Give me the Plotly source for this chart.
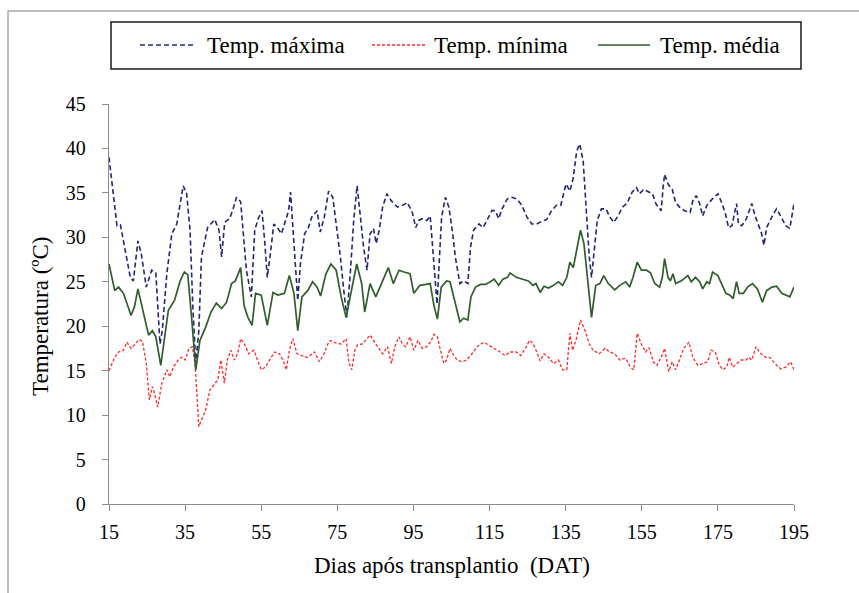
import plotly.graph_objects as go

# ---------------- data ----------------
days_max = [15, 17.1, 18, 20.6, 21.4, 22.6, 23.5, 24.8, 26.2, 27.3, 28.4, 29, 30.2, 31.5, 32.8, 34.5, 35.4, 36.3, 37, 37.8,
            38.6, 39.3, 40.9, 42.8, 43.9, 44.6, 45.4, 46.7, 47.6, 48.5, 49.6, 50.2, 51.1, 52.4, 53.3, 54.2, 55.2, 55.9, 56.6, 57.5,
            58.3, 59.4, 60.3, 61.1, 62.2, 62.7, 63.3, 64.2, 64.6, 65.3, 66.4, 67.4, 68.3, 69.7, 70.5, 71.6, 72.7, 73.8, 74.9, 75.8,
            76.7, 77.5, 78.4, 79.3, 80.2, 81, 81.9, 82.8, 83.6, 84.5, 85.2, 86, 86.9, 88, 89.2, 90.8, 92.1, 93.4, 94.7, 95.6,
            96.4, 97.3, 98.5, 99.4, 100.3, 101.2, 102.4, 103.4, 104.3, 105.2, 106, 107.2, 108.2, 109.3, 110, 110.8, 112.2, 113.3, 114.3, 115.6,
            116.5, 117.4, 118.3, 119.6, 120.9, 122.2, 123.5, 124.8, 126.1, 127.4, 128.7, 130, 131.3, 132.6, 133.7, 135.1, 136.1, 137, 137.9, 138.7,
            139.6, 140.5, 141.2, 141.8, 142.4, 143.3, 144.4, 145.6, 146.6, 147.6, 148.8, 149.9, 151.1, 152.5, 153.6, 154.4, 155.5, 156.6, 157.8, 158.8,
            160.1, 160.6, 161, 161.9, 163, 163.9, 164.9, 166.2, 167.7, 168.4, 169.3, 170.2, 171, 172.1, 173.5, 175, 176.1, 177, 177.8, 178.7,
            179.9, 180.4, 181.3, 182.5, 183.9, 184.8, 185.7, 186.5, 187.1, 187.8, 189.2, 190.4, 191.5, 192.8, 193.9, 195]
temp_max = [39, 31.3, 31.4, 25.5, 25.1, 29.6, 28.1, 24.4, 26.3, 26, 18, 19.5, 25.9, 30.4, 31.5, 35.8, 34.9, 30.8, 22.5, 15.8,
            19.5, 27.8, 31.1, 32, 30.8, 27.8, 31.7, 32.1, 33.2, 34.5, 34, 30.8, 26.3, 23.3, 30.8, 32.1, 33, 29.6, 25.5, 28.5,
            31.5, 31, 30.4, 31.5, 33, 35.1, 31.1, 25.1, 22.9, 27, 30.4, 31.1, 32.3, 33, 30.6, 32.3, 35.2, 34.5, 31.1, 27.8,
            24, 21, 25.9, 31.9, 35.8, 32.6, 28.9, 26.3, 30.4, 31, 29.3, 30.8, 33.4, 34.9, 34.1, 33.4, 33.6, 33.9, 32.8, 31.1,
            31.9, 32.1, 31.9, 32.4, 27.8, 22.5, 32.3, 34.5, 33.4, 30.8, 27.8, 24.8, 25.1, 24.8, 28.9, 30.8, 31.5, 31.1, 31.9, 33,
            33, 32.1, 33.2, 34.3, 34.5, 34.3, 33.6, 32.3, 31.5, 31.5, 31.8, 32, 33, 33.6, 33.6, 36, 35.2, 36.7, 39.7, 40.5,
            38.6, 32.6, 27.8, 25.5, 27.8, 31.9, 33.2, 33.2, 32.3, 31.7, 32.4, 33.4, 33.8, 35.1, 35.6, 34.9, 35.4, 35.2, 34.9, 33.7,
            33, 35.6, 37.1, 36, 35.4, 33.9, 33.4, 33, 32.8, 34.1, 34.7, 33.8, 32.4, 33.6, 34.3, 34.9, 33.8, 32.6, 31.1, 31.3,
            33.8, 31.5, 31.3, 32.1, 33.8, 32.4, 31.3, 30.4, 29.1, 31.1, 32.3, 33.2, 32.4, 31.3, 31, 33.8]

days_min = [15, 16.5, 17.5, 18.8, 19.7, 20.8, 21.9, 22.8, 23.8, 24.8, 25.6, 26.4, 27, 27.8, 28.9, 30.2, 31, 31.9, 33.2, 34.1,
            35, 36, 36.9, 37.6, 38.6, 39.3, 40.4, 41.5, 42.8, 43.6, 44.4, 45.3, 46.1, 47, 47.9, 48.8, 49.6, 50.7, 51.7, 53.1,
            54, 55, 56.1, 57.2, 58.5, 59.8, 60.7, 61.6, 62.4, 63.3, 64.4, 65.5, 67.2, 69, 70.3, 71.5, 72.5, 73.2, 74.7, 76,
            77.3, 78.1, 78.8, 79.6, 80.3, 81.6, 83.6, 85.1, 86.9, 88.2, 89.2, 90.1, 91.2, 92.1, 93, 94.1, 95.1, 96.2, 97.3, 98.5,
            99.6, 100.4, 101.3, 102.1, 103, 103.7, 104.6, 105.6, 106.5, 107.8, 108.9, 110.4, 111.7, 113.5, 114.8, 116.2, 117.8, 119.1, 120.4, 122,
            123.2, 124.4, 125.5, 126.5, 127.2, 128.3, 129.3, 130.5, 131.8, 133.1, 134.2, 135.3, 136.1, 136.8, 137.7, 138.9, 140.1, 141.2, 142.2, 143.8,
            145.3, 146.6, 147.9, 149.2, 150.8, 152, 152.9, 153.8, 154.9, 156, 156.9, 158, 159, 160.1, 161, 161.6, 162.1, 163, 163.9, 164.9,
            166, 167.4, 168.4, 169.7, 171, 172.3, 173.2, 174.3, 175.4, 176.3, 177.3, 178, 178.9, 179.9, 181.1, 182.4, 183.1, 183.9, 185, 186.3,
            187.6, 188.6, 190, 191.5, 192.8, 194.1, 195]
temp_min = [15, 16.5, 17.1, 17.3, 18.2, 17.5, 18, 18.5, 18.3, 15.8, 11.7, 13.2, 12.4, 10.9, 13.6, 15.1, 14.3, 15.4, 16.2, 16.5,
            16.2, 17.5, 17.7, 15.8, 8.7, 9.4, 10.6, 12.8, 13.6, 14, 16.2, 13.6, 16.2, 17.3, 16.2, 16.9, 18.6, 17.9, 16.9, 17.3,
            16.2, 15.1, 15.4, 16.2, 17.1, 16.9, 16.2, 15.1, 17.3, 18.6, 16.9, 16.7, 16.5, 17.1, 16, 16.9, 18, 18.4, 18.1, 18,
            18.6, 15.8, 15.1, 17.3, 17.9, 18, 19, 18, 16.9, 17.7, 15.8, 17.7, 18.8, 18, 17.7, 18.8, 17.3, 18.4, 17.5, 17.7,
            18.3, 19.1, 18.8, 17.3, 15.8, 16.2, 17.5, 16.7, 16.2, 16, 16.2, 16.9, 17.7, 18.2, 17.9, 17.5, 17.1, 16.7, 17.1, 17.1,
            16.7, 17.5, 18.4, 18, 17.3, 16.1, 16.9, 16.5, 15.8, 16.2, 15.1, 15.1, 19.2, 17.3, 18.4, 20.7, 19.5, 18, 17.3, 16.9,
            17.5, 17.1, 16.9, 16.2, 16.4, 15.4, 15.1, 19.2, 18, 17.1, 17.6, 16, 15.6, 16.5, 17.5, 16.2, 14.9, 16, 15.1, 16.2,
            17.5, 18.2, 16.5, 15.6, 15.8, 16, 17.3, 17.1, 15.6, 15.1, 15.4, 16.5, 15.4, 15.8, 16.2, 16.2, 16.5, 16.2, 17.7, 16.9,
            16.5, 16.5, 15.8, 15.2, 15.4, 16, 15.1]

days_med = [15, 16.5, 17.5, 18.8, 20.8, 21.7, 22.6, 23.6, 25.4, 26.4, 27.3, 28.6, 30.6, 32.2, 33.7, 34.8, 35.7, 36.7, 37.8, 38.9,
            40.4, 41.8, 43.2, 44.6, 45.9, 47.2, 48.2, 49.6, 50.5, 51.5, 52.6, 53.5, 55, 56.6, 58.1, 59.4, 61.1, 62.4, 63.6, 64.6,
            65.7, 67.2, 68.5, 69.7, 70.6, 72, 73.3, 74.7, 76, 77.3, 78.6, 80.1, 81.4, 82.2, 83.6, 85.1, 86.9, 88.4, 89.7, 91.2,
            92.5, 94.1, 95.1, 96.7, 98.2, 99.4, 100.4, 101.3, 102.3, 103.7, 104.6, 105.6, 107.2, 108.2, 109.3, 110.1, 111.3, 112.6, 113.9, 115.2,
            116.2, 117.4, 118.5, 119.7, 120.4, 122, 123.5, 125.2, 126.4, 127.2, 128.3, 129.3, 130.5, 131.8, 133.1, 134.2, 135.3, 136.1, 137, 137.7,
            138.9, 139.8, 140.9, 141.8, 142.9, 144, 145, 146.2, 147.9, 149.2, 150.8, 151.8, 152.7, 153.8, 154.9, 156.2, 157.3, 158.4, 159.7, 160.4,
            161, 161.9, 162.5, 163.2, 163.9, 165.4, 167.1, 168, 169.1, 170.2, 171, 172.1, 172.8, 173.6, 175, 176.1, 177.1, 178.2, 179, 179.9,
            180.6, 181.7, 182.8, 184.1, 185.4, 186.7, 187.8, 189.2, 190.4, 191.8, 193, 193.9, 195]
temp_med = [27, 24, 24.4, 23.7, 21.2, 22.2, 24.2, 22.2, 19, 19.5, 18.8, 15.6, 21.8, 22.9, 25.1, 26.1, 25.8, 21, 15.1, 18.4,
            19.9, 21.6, 22.6, 22, 22.7, 24.8, 25.1, 26.6, 22.3, 21, 20.1, 23.7, 23.5, 20.1, 23.8, 23.5, 23.7, 25.7, 23.7, 19.5,
            23.3, 24, 25, 24.4, 23.4, 25.9, 27, 26.3, 23.3, 21, 23.7, 27, 24.8, 21.6, 24.8, 23.3, 25.1, 26.6, 24.8, 26.3,
            26.1, 25.9, 23.7, 24.6, 24.7, 24.8, 22.3, 20.8, 24.4, 25.1, 25, 23.3, 20.5, 20.9, 20.7, 23.3, 24.4, 24.7, 24.7, 25,
            25.3, 24.6, 25.3, 25.5, 26, 25.5, 25.3, 25.1, 24.6, 24.8, 23.8, 24.5, 24.3, 24.6, 25, 24.6, 25.5, 27.2, 26.6, 28.1,
            30.8, 29.3, 25.1, 21, 24.6, 24.8, 25.7, 24.8, 24.1, 24.6, 25, 24.4, 25.5, 27.2, 26.3, 26.3, 26, 24.8, 24.4, 25.5,
            27.6, 25.5, 25.1, 25.9, 24.8, 25.1, 25.7, 25, 25.5, 25, 24.2, 25, 24.8, 26.1, 25.7, 24.6, 23.7, 23.5, 23.1, 25,
            23.7, 23.7, 24.4, 24.8, 24.2, 22.7, 24, 24.4, 24.5, 23.7, 23.5, 23.3, 24.4]

x_ticks = [15, 35, 55, 75, 95, 115, 135, 155, 175, 195]
y_ticks = [0, 5, 10, 15, 20, 25, 30, 35, 40, 45]
names = ["Temp. máxima", "Temp. mínima", "Temp. média"]
x_title = "Dias após transplantio  (DAT)"
y_title = "Temperatura (ºC)"

# ---------------- styling ----------------
FONT = "Liberation Serif"
C_MAX, C_MIN, C_MED = "#24247F", "#FF2A2A", "#2F5F2A"
AX = "#8C8C8C"

fig = go.Figure()
fig.add_trace(go.Scatter(x=days_max, y=temp_max, mode="lines", name=names[0],
                         line=dict(color=C_MAX, width=1.6, dash="5px,3px")))
fig.add_trace(go.Scatter(x=days_min, y=temp_min, mode="lines", name=names[1],
                         line=dict(color=C_MIN, width=1.3, dash="3px,2px")))
fig.add_trace(go.Scatter(x=days_med, y=temp_med, mode="lines", name=names[2],
                         line=dict(color=C_MED, width=1.7)))

W, H = 859, 593
L, R, T, B = 109, 65, 104, 89
pw, ph = W - L - R, H - T - B


def px(x):
    return (x - L) / pw


def py(y):
    return (H - B - y) / ph


shapes = [
    # outer chart frame (only left & top visible)
    dict(type="rect", xref="paper", yref="paper", x0=px(8), x1=px(880), y0=py(620), y1=py(11),
         line=dict(color="#A8A8A8", width=1.5), layer="below"),
    # legend box
    dict(type="rect", xref="paper", yref="paper", x0=px(111), x1=px(801), y0=py(69), y1=py(22),
         line=dict(color="#1A1A1A", width=1.5)),
]
annotations = []
leg_y = 45
leg_items = [(140, 195, 205, C_MAX, 1.6, "5px,3px"),
             (372, 427, 432, C_MIN, 1.3, "3px,2px"),
             (598, 650, 658, C_MED, 1.7, "solid")]
for (lx0, lx1, tx, col, wd, ds), nm in zip(leg_items, names):
    shapes.append(dict(type="line", xref="paper", yref="paper", x0=px(lx0), x1=px(lx1),
                       y0=py(leg_y), y1=py(leg_y), line=dict(color=col, width=wd, dash=ds)))
    annotations.append(dict(xref="paper", yref="paper", x=px(tx), y=py(leg_y), text=nm,
                            showarrow=False, xanchor="left", yanchor="middle",
                            font=dict(family=FONT, size=23, color="black")))
# y-axis title (sits slightly below the plot centre, as in the reference)
annotations.append(dict(xref="paper", yref="paper", x=px(40), y=py(317), text=y_title,
                        textangle=-90, showarrow=False, xanchor="center", yanchor="middle",
                        font=dict(family=FONT, size=23, color="black")))
# x-axis title
annotations.append(dict(xref="paper", yref="paper", x=px(452), y=py(565), text=x_title,
                        showarrow=False, xanchor="center", yanchor="middle",
                        font=dict(family=FONT, size=23, color="black")))

fig.update_layout(
    width=W, height=H, margin=dict(l=L, r=R, t=T, b=B),
    paper_bgcolor="white", plot_bgcolor="white", showlegend=False,
    font=dict(family=FONT, size=20, color="black"),
    shapes=shapes, annotations=annotations,
    xaxis=dict(range=[15, 195], tickvals=x_ticks, ticktext=[str(v) for v in x_ticks],
               showgrid=False, zeroline=False, showline=True, linecolor=AX, linewidth=1.3,
               ticks="outside", ticklen=6, tickcolor=AX, tickwidth=1.3, ticklabelstandoff=4,
               tickfont=dict(family=FONT, size=20, color="black")),
    yaxis=dict(range=[0, 45], tickvals=y_ticks, ticktext=[str(v) for v in y_ticks],
               showgrid=False, zeroline=False, showline=True, linecolor=AX, linewidth=1.3,
               ticks="outside", ticklen=6, tickcolor=AX, tickwidth=1.3, ticklabelstandoff=12,
               tickfont=dict(family=FONT, size=20, color="black")),
)

fig.write_html("out.html")
